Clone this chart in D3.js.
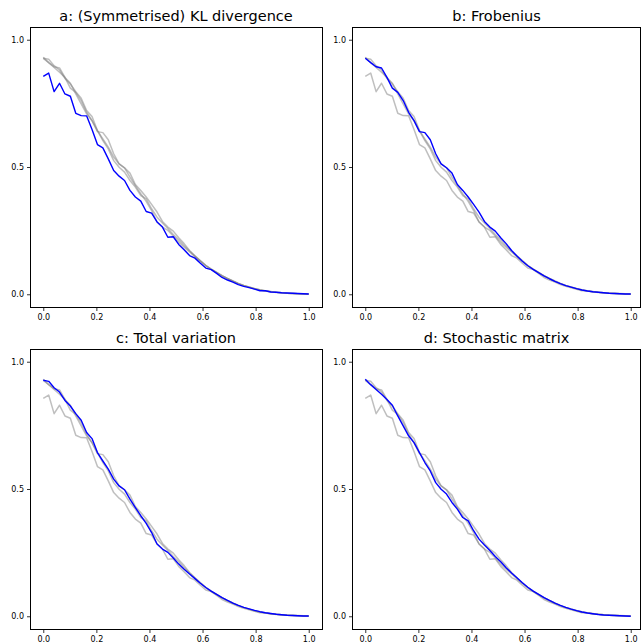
<!DOCTYPE html>
<html><head><meta charset="utf-8">
<script src="https://cdn.jsdelivr.net/npm/d3@7"></script>
<style>body{margin:0;background:#fff} svg{display:block}</style>
</head><body><svg id="c" width="641" height="644"></svg>
<script>
// x grid: 50 evenly spaced points in [0, 1]
const xGrid = d3.range(50).map(i => i / 49);

const titles = ["a: (Symmetrised) KL divergence", "b: Frobenius", "c: Total variation", "d: Stochastic matrix"];
const xTicks = [0, 0.2, 0.4, 0.6, 0.8, 1.0];
const yTicks = [0, 0.5, 1.0];

const klValues = [
  0.856, 0.869, 0.796, 0.829, 0.787, 0.778, 0.711, 0.702, 0.701, 0.647,
  0.588, 0.575, 0.532, 0.486, 0.464, 0.447, 0.408, 0.382, 0.366, 0.325,
  0.319, 0.284, 0.264, 0.224, 0.226, 0.196, 0.175, 0.152, 0.142, 0.122,
  0.103, 0.097, 0.082, 0.066, 0.056, 0.048, 0.038, 0.031, 0.026, 0.020,
  0.014, 0.014, 0.009, 0.008, 0.006, 0.005, 0.004, 0.003, 0.002, 0.001];
const frobeniusValues = [
  0.927, 0.910, 0.894, 0.889, 0.852, 0.810, 0.793, 0.761, 0.715, 0.682,
  0.639, 0.635, 0.607, 0.552, 0.512, 0.497, 0.476, 0.431, 0.408, 0.382,
  0.353, 0.323, 0.286, 0.264, 0.248, 0.222, 0.199, 0.172, 0.150, 0.130,
  0.112, 0.098, 0.085, 0.072, 0.061, 0.051, 0.042, 0.034, 0.028, 0.022,
  0.017, 0.013, 0.010, 0.008, 0.006, 0.004, 0.003, 0.002, 0.001, 0.001];
const totalVariationValues = [
  0.927, 0.923, 0.898, 0.881, 0.848, 0.826, 0.796, 0.770, 0.722, 0.698,
  0.643, 0.610, 0.578, 0.539, 0.512, 0.497, 0.460, 0.427, 0.395, 0.365,
  0.329, 0.284, 0.264, 0.251, 0.229, 0.205, 0.185, 0.166, 0.148, 0.130,
  0.113, 0.099, 0.086, 0.073, 0.062, 0.052, 0.043, 0.035, 0.029, 0.023,
  0.018, 0.014, 0.011, 0.008, 0.006, 0.004, 0.003, 0.002, 0.001, 0.001];
const stochasticValues = [
  0.931, 0.910, 0.891, 0.872, 0.852, 0.829, 0.787, 0.748, 0.709, 0.682,
  0.643, 0.604, 0.571, 0.525, 0.499, 0.480, 0.447, 0.421, 0.388, 0.375,
  0.336, 0.303, 0.280, 0.258, 0.235, 0.214, 0.191, 0.170, 0.151, 0.132,
  0.114, 0.099, 0.086, 0.073, 0.062, 0.052, 0.043, 0.035, 0.028, 0.022,
  0.017, 0.013, 0.010, 0.007, 0.005, 0.004, 0.003, 0.002, 0.001, 0.000];

const allSeries = [klValues, frobeniusValues, totalVariationValues, stochasticValues];

const svg = d3.select("#c");
const W = 292, H = 280;
const lefts = [30, 352], tops = [27, 349];
const font = "DejaVu Sans, sans-serif";

titles.forEach((title, p) => {
  const x0 = lefts[p % 2], y0 = tops[Math.floor(p / 2)];
  const x = d3.scaleLinear().domain([-0.05, 1.05]).range([x0, x0 + W]);
  const y = d3.scaleLinear().domain([-0.05, 1.05]).range([y0 + H, y0]);
  const g = svg.append("g");

  const line = d3.line().x((d, i) => x(xGrid[i])).y(d => y(d));

  // grey lines first
  allSeries.forEach((s, k) => {
    if (k === p) return;
    g.append("path").attr("d", line(s)).attr("fill", "none")
      .attr("stroke", "#808080").attr("stroke-opacity", 0.5).attr("stroke-width", 1.5)
      .attr("stroke-linejoin", "round");
  });
  g.append("path").attr("d", line(allSeries[p])).attr("fill", "none")
    .attr("stroke", "#0000ff").attr("stroke-width", 1.4).attr("stroke-linejoin", "round");

  // frame
  const right = Math.min(x0 + W, 640);
  g.append("rect").attr("x", x0 + 0.5).attr("y", y0 + 0.5)
    .attr("width", right - x0).attr("height", H)
    .attr("fill", "none").attr("stroke", "#000").attr("stroke-width", 1);

  const xa = g.append("g").attr("transform", `translate(0,${y0 + H + 0.5})`)
    .call(d3.axisBottom(x).tickValues(xTicks).tickFormat(d3.format(".1f")).tickSize(3.5).tickPadding(3));
  const ya = g.append("g").attr("transform", `translate(${x0 + 0.5},0)`)
    .call(d3.axisLeft(y).tickValues(yTicks).tickFormat(d3.format(".1f")).tickSize(3.5).tickPadding(3));
  [xa, ya].forEach(a => {
    a.select(".domain").remove();
    a.selectAll("text").attr("font-family", font).attr("font-size", 8).attr("fill", "#000");
    a.selectAll("line").attr("stroke", "#000").attr("stroke-width", 0.8);
  });

  g.append("text").attr("x", x0 + W / 2 - (p % 2 ? 1.5 : 0)).attr("y", y0 - 6)
    .attr("text-anchor", "middle").attr("font-family", font).attr("font-size", 14.5)
    .attr("fill", "#000").text(title);
});
</script></body></html>
